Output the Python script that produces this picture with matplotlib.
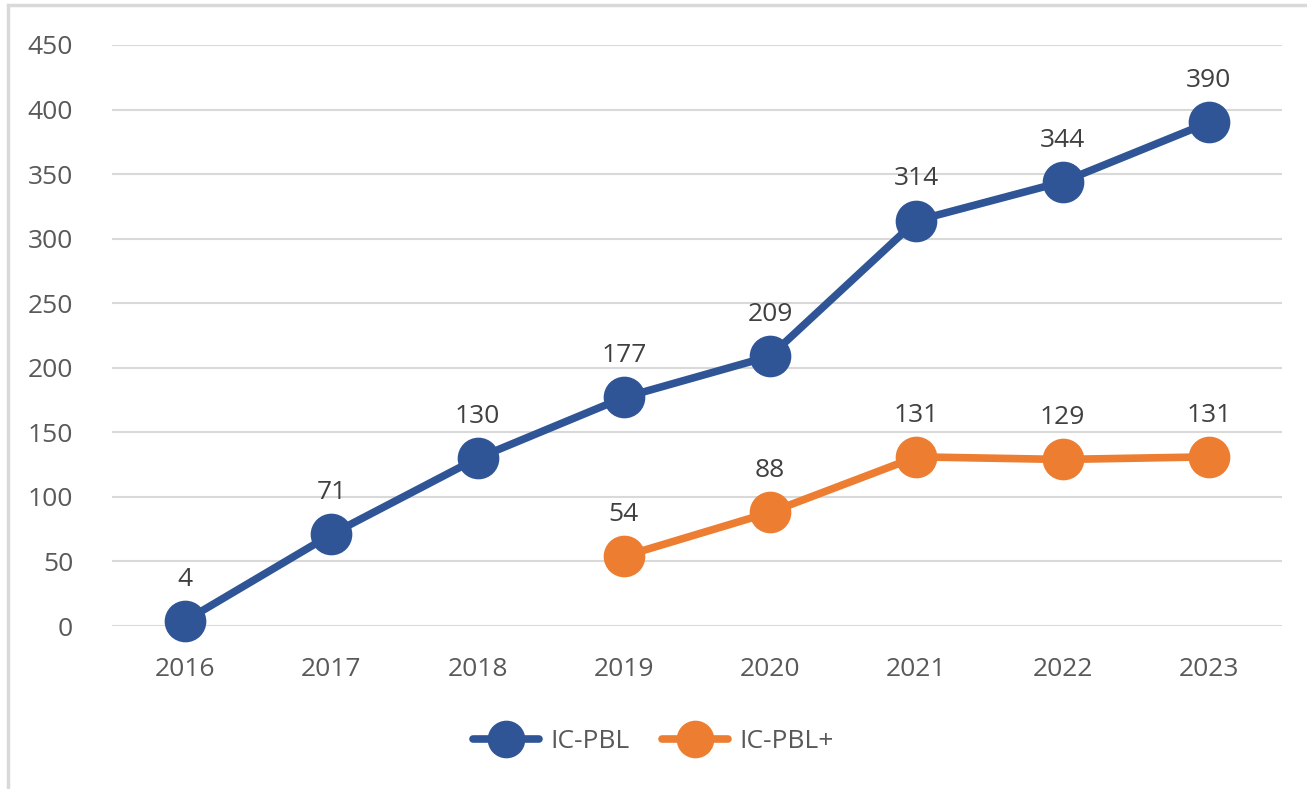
import matplotlib.pyplot as plt
from matplotlib.patches import Rectangle
import numpy as np

years = ["2016", "2017", "2018", "2019", "2020", "2021", "2022", "2023"]
ic_pbl = [4, 71, 130, 177, 209, 314, 344, 390]
ic_pbl_plus_years = ["2019", "2020", "2021", "2022", "2023"]
ic_pbl_plus = [54, 88, 131, 129, 131]

plt.rcParams['font.family'] = ['Open Sans', 'DejaVu Sans']

blue = '#2F5597'
orange = '#ED7D31'

fig = plt.figure(figsize=(13.07, 7.89), dpi=100)
ax = fig.add_axes([112 / 1307, 1 - 626 / 789, 1170 / 1307, 581 / 789])

x1 = np.arange(len(years))
x2 = np.array([years.index(y) for y in ic_pbl_plus_years])

ax.plot(x1, ic_pbl, color=blue, lw=5.5, marker='o', ms=29, label='IC-PBL',
        solid_capstyle='round', zorder=3, clip_on=False)
ax.plot(x2, ic_pbl_plus, color=orange, lw=5.5, marker='o', ms=29, label='IC-PBL+',
        solid_capstyle='round', zorder=3, clip_on=False)

for x, v in zip(x1, ic_pbl):
    ax.annotate(str(v), (x, v), xytext=(0, 21), textcoords='offset points',
                ha='center', va='bottom', fontsize=19, color='#404040')
for x, v in zip(x2, ic_pbl_plus):
    ax.annotate(str(v), (x, v), xytext=(0, 21), textcoords='offset points',
                ha='center', va='bottom', fontsize=19, color='#404040')

ax.set_xlim(-0.5, len(years) - 0.5)
ax.set_ylim(0, 450)
ax.set_yticks(range(0, 451, 50))
ax.set_xticks(x1)
ax.set_xticklabels(years)
ax.tick_params(axis='both', length=0, labelsize=19, labelcolor='#595959')
ax.tick_params(axis='x', pad=22)
ax.tick_params(axis='y', pad=28)
ax.grid(axis='y', color='#D9D9D9', lw=1.5)
ax.set_axisbelow(True)
for s in ax.spines.values():
    s.set_visible(False)

leg = fig.legend(loc='center', bbox_to_anchor=(0.5, 1 - 742 / 789), ncol=2,
                 frameon=False, fontsize=19, handlelength=2.5, markerscale=0.9,
                 columnspacing=1.2, handletextpad=0.45)
for t in leg.get_texts():
    t.set_color('#595959')

fig.patches.append(Rectangle((8 / 1307, -0.01), 1.1, 1 - 5 / 789 + 0.01,
                             transform=fig.transFigure, fill=False,
                             edgecolor='#D9D9D9', lw=2.5))

fig.savefig('out.png', dpi=100)
